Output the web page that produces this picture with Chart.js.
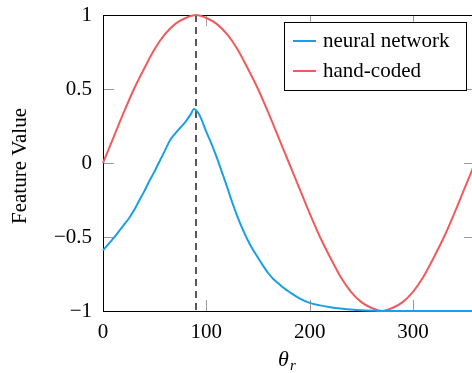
<!DOCTYPE html>
<html>
<head>
<meta charset="utf-8">
<script src="https://cdn.jsdelivr.net/npm/chart.js@4"></script>
<style>
  html, body { margin: 0; padding: 0; overflow: hidden; background: #fff; }
  #wrap { width: 480px; height: 373px; }
</style>
</head>
<body>
<div id="wrap"><canvas id="myChart" width="480" height="373"></canvas></div>
<script>
/* feature value vs theta_r */

var theta = [0, 10, 20, 30, 40, 50, 60, 70, 80, 90, 100, 110, 120, 130, 140, 150, 160, 170, 180,
  190, 200, 210, 220, 230, 240, 250, 260, 270, 280, 290, 300, 310, 320, 330, 340, 350, 360];
var handCoded = [0, 0.17, 0.34, 0.5, 0.64, 0.77, 0.87, 0.94, 0.98, 1, 0.98, 0.94, 0.87, 0.77, 0.64, 0.5, 0.34, 0.17, 0,
  -0.17, -0.34, -0.5, -0.64, -0.77, -0.87, -0.94, -0.98, -1, -0.98, -0.94, -0.87, -0.77, -0.64, -0.5, -0.34, -0.17, 0];

var thetaNN = [0, 5, 10, 15, 20, 25, 30, 35, 40, 45, 50, 55, 60, 65, 70, 75, 80, 85, 88, 92, 95,
  100, 105, 110, 115, 120, 125, 130, 135, 140, 145, 150, 155, 160, 165, 170, 175, 180,
  190, 200, 210, 220, 230, 240, 250, 260, 270, 280, 300, 320, 340, 360];
var neuralNet = [-0.59, -0.55, -0.51, -0.465, -0.42, -0.375, -0.32, -0.255, -0.19, -0.12, -0.055, 0.015, 0.085, 0.155, 0.2, 0.24, 0.28, 0.33, 0.365, 0.34, 0.3,
  0.21, 0.13, 0.04, -0.06, -0.16, -0.265, -0.36, -0.445, -0.52, -0.585, -0.64, -0.695, -0.745, -0.785, -0.815, -0.845, -0.87,
  -0.915, -0.945, -0.962, -0.975, -0.983, -0.99, -0.995, -0.998, -1, -1, -1, -1, -1, -1];

var markerX = [90, 90];
var markerY = [1, -1];

var xTicks = [0, 100, 200, 300];
var yTicks = [-1, -0.5, 0, 0.5, 1];

var serif = "'Liberation Serif', 'Times New Roman', serif";

function pts(xs, ys) {
  return xs.map(function (x, i) { return { x: x, y: ys[i] }; });
}

// box, inward ticks, titles and the framed legend
var decor = {
  id: 'decor',
  beforeDatasetsDraw: function (chart) {
    var c = chart.ctx, a = chart.chartArea;
    var xs = chart.scales.x, ys = chart.scales.y;
    c.save();
    c.strokeStyle = '#9a9a9a';
    c.lineWidth = 1;
    c.beginPath();
    xTicks.forEach(function (v) {
      var px = Math.round(xs.getPixelForValue(v)) + 0.5;
      c.moveTo(px, a.bottom); c.lineTo(px, a.bottom - 11);
      c.moveTo(px, a.top); c.lineTo(px, a.top + 11);
    });
    yTicks.forEach(function (v) {
      var py = Math.round(ys.getPixelForValue(v)) + 0.5;
      c.moveTo(a.left, py); c.lineTo(a.left + 11, py);
      c.moveTo(a.right, py); c.lineTo(a.right - 11, py);
    });
    c.stroke();
    c.strokeStyle = '#000';
    c.strokeRect(Math.round(a.left) + 0.5, Math.round(a.top) + 0.5,
      Math.round(a.right - a.left), Math.round(a.bottom - a.top));
    c.restore();
  },
  afterDraw: function (chart) {
    var c = chart.ctx;
    c.save();
    c.fillStyle = '#000';
    // y title
    c.font = '21px ' + serif;
    c.textAlign = 'center';
    c.textBaseline = 'middle';
    c.translate(20, 166);
    c.rotate(-Math.PI / 2);
    c.fillText('Feature Value', 0, 0);
    c.setTransform(1, 0, 0, 1, 0, 0);
    // x title
    c.textAlign = 'left';
    c.textBaseline = 'alphabetic';
    c.font = 'italic 22px ' + serif;
    c.fillText('θ', 278, 366);
    c.font = 'italic 15px ' + serif;
    c.fillText('r', 290, 370);
    // legend
    var bx = 284.5, by = 22.5, bw = 182, bh = 68;
    c.fillStyle = '#fff';
    c.fillRect(bx, by, bw, bh);
    c.strokeStyle = '#000';
    c.lineWidth = 1;
    c.strokeRect(bx, by, bw, bh);
    c.font = '21px ' + serif;
    c.textBaseline = 'middle';
    var rows = [chart.data.datasets[0], chart.data.datasets[1]];
    rows.forEach(function (ds, i) {
      var y = 41 + i * 30;
      c.strokeStyle = ds.borderColor;
      c.lineWidth = 2;
      c.beginPath();
      c.moveTo(293, y); c.lineTo(316, y);
      c.stroke();
      c.fillStyle = '#000';
      c.fillText(ds.label, 323, y);
    });
    c.restore();
  }
};

var ctx = document.getElementById('myChart');

var myChart = new Chart(ctx, {
  type: 'scatter',
  data: {
    datasets: [
      {
        label: 'neural network',
        data: pts(thetaNN, neuralNet),
        showLine: true,
        borderColor: '#1a9fe6',
        borderWidth: 2,
        pointRadius: 0,
        cubicInterpolationMode: 'monotone',
        clip: 4,
      },
      {
        label: 'hand-coded',
        data: pts(theta, handCoded),
        showLine: true,
        borderColor: '#f05b5b',
        borderWidth: 2,
        pointRadius: 0,
        cubicInterpolationMode: 'monotone',
        clip: 4,
      },
      {
        label: 'marker',
        data: pts(markerX, markerY),
        showLine: true,
        borderColor: '#000',
        borderWidth: 1.3,
        borderDash: [7, 5],
        pointRadius: 0,
      },
    ],
  },
  options: {
    responsive: false,
    animation: false,
    events: [],
    layout: { padding: { top: 15, right: 5, left: 0, bottom: 0 } },
    plugins: {
      legend: { display: false },
      tooltip: { enabled: false },
    },
    scales: {
      x: {
        type: 'linear',
        min: 0,
        max: 360,
        afterFit: function (s) { s.height = 62; s.paddingLeft = 0; s.paddingRight = 0; },
        afterBuildTicks: function (s) {
          s.ticks = xTicks.map(function (v) { return { value: v }; });
        },
        grid: { display: false, drawTicks: false },
        border: { display: false },
        ticks: {
          color: '#000',
          padding: 9,
          maxRotation: 0,
          font: { family: serif, size: 21 },
        },
      },
      y: {
        min: -1,
        max: 1,
        afterFit: function (s) { s.width = 103; s.paddingTop = 0; s.paddingBottom = 0; },
        afterBuildTicks: function (s) {
          s.ticks = yTicks.map(function (v) { return { value: v }; });
        },
        grid: { display: false, drawTicks: false },
        border: { display: false },
        ticks: {
          color: '#000',
          padding: 11,
          font: { family: serif, size: 21 },
          callback: function (v) { return v < 0 ? '\u2212' + Math.abs(v) : '' + v; },
        },
      },
    },
  },
  plugins: [decor],
});
</script>
</body>
</html>
